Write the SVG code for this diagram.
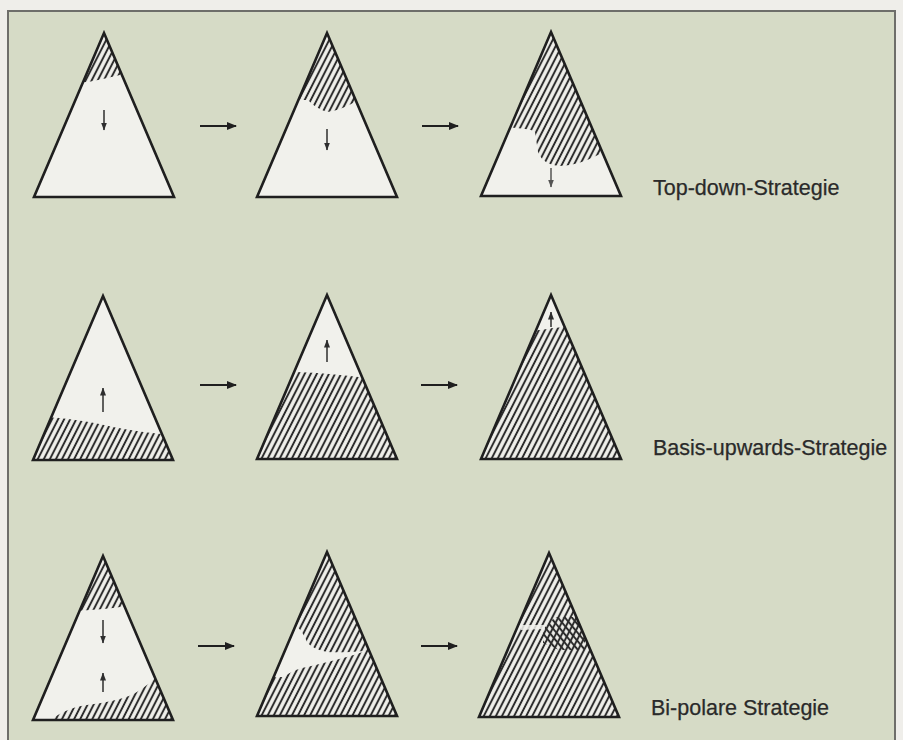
<svg xmlns="http://www.w3.org/2000/svg" width="903" height="740" viewBox="0 0 903 740">
  <style>
    .tri-fill { fill: #f1f1ec; }
    .tri-line { fill: none; stroke: #1f1f1f; stroke-width: 2.6; stroke-linejoin: miter; }
    .hatch { fill: url(#hatch); }
    .cross { fill: url(#hatchBack); }
    .step { stroke: #1f1f1f; stroke-width: 2; fill: none; }
    .dir { stroke: #2e2e2e; stroke-width: 1.5; fill: none; }
    .label { font-family: "Liberation Sans", Arial, sans-serif; font-size: 21.5px; fill: #2a2a2a; stroke: #2a2a2a; stroke-width: 0.25; }
  </style>
  <defs>
    <!-- one triangle in local coordinates, shared by every node -->
    <path id="triShape" d="M70,0 L140,164 L0,164 Z"/>
    <clipPath id="triClip" clipPathUnits="userSpaceOnUse">
      <use href="#triShape"/>
    </clipPath>
    <pattern id="hatch" width="5.4" height="12" patternUnits="userSpaceOnUse" patternTransform="rotate(27)">
      <rect x="1.7" y="0" width="2" height="12" fill="#2c2c2c"/>
    </pattern>
    <pattern id="hatchBack" width="5.4" height="12" patternUnits="userSpaceOnUse" patternTransform="rotate(-40)">
      <rect x="1.7" y="0" width="2" height="12" fill="#2c2c2c"/>
    </pattern>
    <marker id="head" viewBox="0 0 10 8" refX="9" refY="4" markerWidth="10" markerHeight="8" markerUnits="userSpaceOnUse" orient="auto">
      <path d="M0,0 L10,4 L0,8 Z" fill="#1f1f1f"/>
    </marker>
    <marker id="headSmall" viewBox="0 0 8 6" refX="7.5" refY="3" markerWidth="8" markerHeight="6" markerUnits="userSpaceOnUse" orient="auto">
      <path d="M0,0 L8,3 L0,6 Z" fill="#2e2e2e"/>
    </marker>
  </defs>

  <!-- page and panel -->
  <rect x="0" y="0" width="903" height="740" fill="#efeeea"/>
  <rect x="8" y="11" width="887" height="740" fill="#d6dbc6" stroke="#6e6e6a" stroke-width="2"/>

  <!-- Top-down row -->
  <g id="td1" transform="translate(34,33)">
    <use href="#triShape" class="tri-fill"/>
    <g clip-path="url(#triClip)">
      <path class="hatch" d="M-10,-10 H150 V42 L86,42 Q70,46 54,49 L-10,51 Z"/>
    </g>
    <line class="dir" x1="70" y1="77" x2="70" y2="97" marker-end="url(#headSmall)"/>
    <use href="#triShape" class="tri-line"/>
  </g>
  <g id="td2" transform="translate(257,33)">
    <use href="#triShape" class="tri-fill"/>
    <g clip-path="url(#triClip)">
      <path class="hatch" d="M-10,-10 H150 V69 L98,69 Q82,78 70,79 Q58,75 51,67 L-10,67 Z"/>
    </g>
    <line class="dir" x1="70" y1="96" x2="70" y2="117" marker-end="url(#headSmall)"/>
    <use href="#triShape" class="tri-line"/>
  </g>
  <g id="td3" transform="translate(481,32)">
    <use href="#triShape" class="tri-fill"/>
    <g clip-path="url(#triClip)">
      <path class="hatch" d="M-10,-10 H150 V120 L117,123 Q96,134 79,134 Q62,133 57,120 L54,100 Q50,95 -10,94 Z"/>
    </g>
    <line class="dir" x1="70" y1="136" x2="70" y2="155" marker-end="url(#headSmall)" opacity="0.8"/>
    <use href="#triShape" class="tri-line"/>
  </g>

  <!-- Basis-upwards row -->
  <g id="bu1" transform="translate(33,296)">
    <use href="#triShape" class="tri-fill"/>
    <g clip-path="url(#triClip)">
      <path class="hatch" d="M-10,120 L27,122 Q55,125 80,131 Q110,137 150,140 V175 H-10 Z"/>
    </g>
    <line class="dir" x1="70" y1="116" x2="70" y2="92" marker-end="url(#headSmall)"/>
    <use href="#triShape" class="tri-line"/>
  </g>
  <g id="bu2" transform="translate(257,295)">
    <use href="#triShape" class="tri-fill"/>
    <g clip-path="url(#triClip)">
      <path class="hatch" d="M-10,76 L40,77 Q70,78 110,83 L150,83 V175 H-10 Z"/>
    </g>
    <line class="dir" x1="70" y1="67" x2="70" y2="45" marker-end="url(#headSmall)"/>
    <use href="#triShape" class="tri-line"/>
  </g>
  <g id="bu3" transform="translate(481,295)">
    <use href="#triShape" class="tri-fill"/>
    <g clip-path="url(#triClip)">
      <path class="hatch" d="M-10,36 L60,35 Q75,31 150,28 V175 H-10 Z"/>
    </g>
    <line class="dir" x1="70" y1="32" x2="70" y2="17" marker-end="url(#headSmall)"/>
    <use href="#triShape" class="tri-line"/>
  </g>

  <!-- Bi-polar row -->
  <g id="bp1" transform="translate(33,556)">
    <use href="#triShape" class="tri-fill"/>
    <g clip-path="url(#triClip)">
      <path class="hatch" d="M-10,-10 H150 V50 L87,51 Q70,54 -10,58 Z"/>
      <path class="hatch" d="M15,175 L20,162 Q36,151 54,149 Q80,146 96,140 Q110,134 124,120 L150,116 V175 Z"/>
    </g>
    <line class="dir" x1="70" y1="64" x2="70" y2="87" marker-end="url(#headSmall)"/>
    <line class="dir" x1="70" y1="136" x2="70" y2="117" marker-end="url(#headSmall)"/>
    <use href="#triShape" class="tri-line"/>
  </g>
  <g id="bp2" transform="translate(257,552)">
    <use href="#triShape" class="tri-fill"/>
    <g clip-path="url(#triClip)">
      <path class="hatch" d="M-10,-10 H150 V99 L108,99 Q85,101 70,100 Q55,97 50,90 Q45,78 40,75 L-10,75 Z"/>
      <path class="hatch" d="M-10,126 L26,125 Q40,116 50,115 Q80,108 100,102 L108,99 L150,99 V175 H-10 Z"/>
    </g>
    <use href="#triShape" class="tri-line"/>
  </g>
  <g id="bp3" transform="translate(479,553)">
    <use href="#triShape" class="tri-fill"/>
    <g clip-path="url(#triClip)">
      <path class="hatch" d="M-10,-10 H150 V175 H-10 Z"/>
      <path class="cross" d="M76,64 L96,64 L106,78 L106,97 L80,97 L64,90 L64,76 Z"/>
      <path d="M42,72 L66,72 L66,76 L42,77 Z" fill="#f1f1ec" opacity="0.85"/>
    </g>
    <use href="#triShape" class="tri-line"/>
  </g>

  <!-- step connectors -->
  <g id="connectors">
    <line class="step" x1="200" y1="126" x2="236" y2="126" marker-end="url(#head)"/>
    <line class="step" x1="422" y1="126" x2="458" y2="126" marker-end="url(#head)"/>
    <line class="step" x1="200" y1="385" x2="236" y2="385" marker-end="url(#head)"/>
    <line class="step" x1="421" y1="385" x2="457" y2="385" marker-end="url(#head)"/>
    <line class="step" x1="198" y1="646" x2="234" y2="646" marker-end="url(#head)"/>
    <line class="step" x1="421" y1="646" x2="457" y2="646" marker-end="url(#head)"/>
  </g>

  <!-- row labels -->
  <text class="label" x="653" y="195">Top-down-Strategie</text>
  <text class="label" x="653" y="455">Basis-upwards-Strategie</text>
  <text class="label" x="651" y="715">Bi-polare Strategie</text>
</svg>
